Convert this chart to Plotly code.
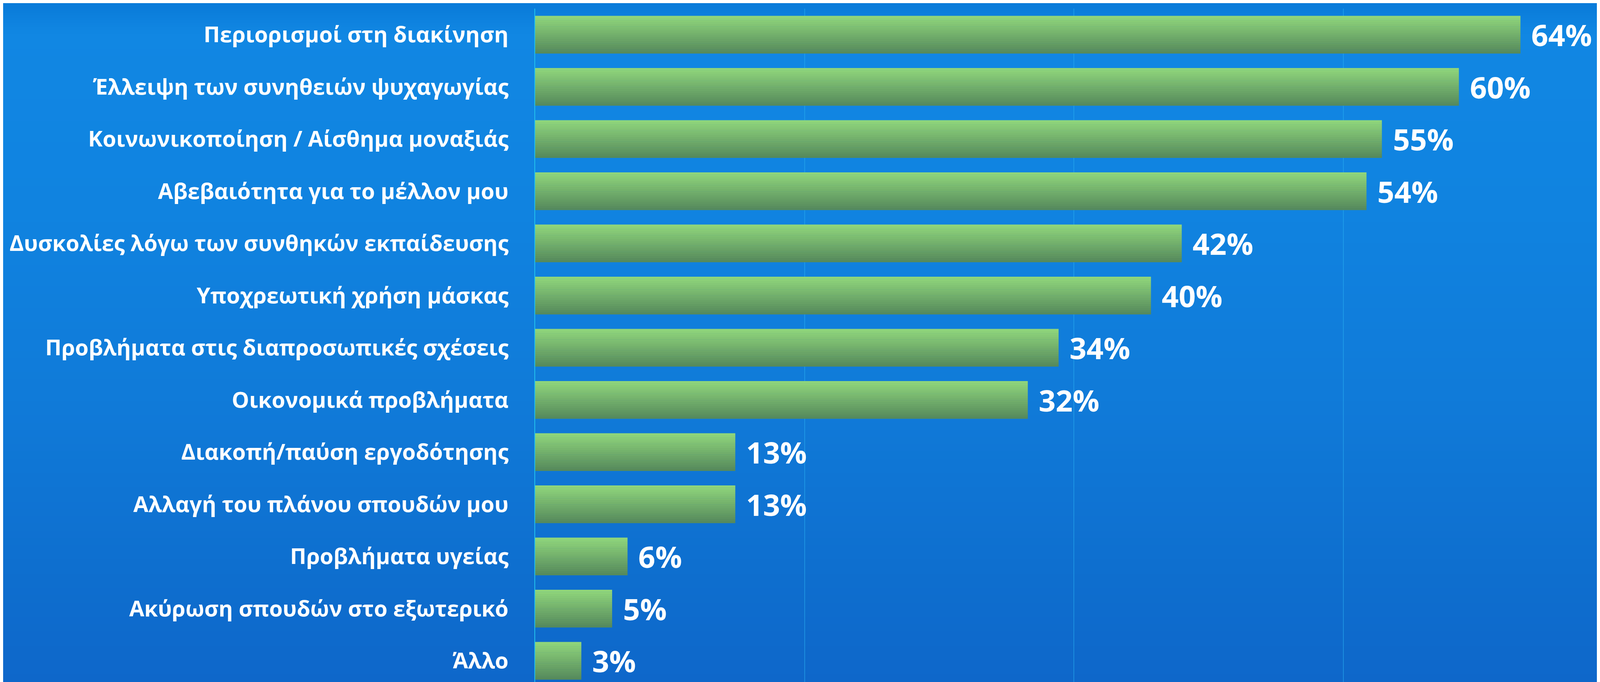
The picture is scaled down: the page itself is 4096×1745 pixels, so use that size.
import base64
import struct
import zlib

import plotly.graph_objects as go

# ---------------- data ----------------
categories = [
    "Περιορισμοί στη διακίνηση",
    "Έλλειψη των συνηθειών ψυχαγωγίας",
    "Κοινωνικοποίηση / Αίσθημα μοναξιάς",
    "Αβεβαιότητα για το μέλλον μου",
    "Δυσκολίες λόγω των συνθηκών εκπαίδευσης",
    "Υποχρεωτική χρήση μάσκας",
    "Προβλήματα στις διαπροσωπικές σχέσεις",
    "Οικονομικά προβλήματα",
    "Διακοπή/παύση εργοδότησης",
    "Αλλαγή του πλάνου σπουδών μου",
    "Προβλήματα υγείας",
    "Ακύρωση σπουδών στο εξωτερικό",
    "Άλλο",
]
values = [64, 60, 55, 54, 42, 40, 34, 32, 13, 13, 6, 5, 3]
value_labels = [f"{v}%" for v in values]


# ---------------- background gradient image ----------------
def make_png(width, height, pixel_fn):
    raw = b""
    for yy in range(height):
        row = b"\x00"
        for xx in range(width):
            row += bytes(pixel_fn(xx, yy))
        raw += row

    def chunk(tag, data):
        c = struct.pack(">I", len(data)) + tag + data
        return c + struct.pack(">I", zlib.crc32(tag + data) & 0xFFFFFFFF)

    png = b"\x89PNG\r\n\x1a\n"
    png += chunk(b"IHDR", struct.pack(">IIBBBBB", width, height, 8, 2, 0, 0, 0))
    png += chunk(b"IDAT", zlib.compress(raw, 9))
    png += chunk(b"IEND", b"")
    return "data:image/png;base64," + base64.b64encode(png).decode()


bg_stops = [
    (0.00, (10, 124, 218)),
    (0.04, (17, 135, 227)),
    (0.30, (16, 131, 224)),
    (0.60, (16, 122, 216)),
    (0.85, (14, 110, 206)),
    (1.00, (14, 103, 202)),
]


def lerp_stops(stops, t):
    for (t0, c0), (t1, c1) in zip(stops[:-1], stops[1:]):
        if t0 <= t <= t1:
            f = (t - t0) / (t1 - t0) if t1 > t0 else 0
            return tuple(int(round(a + (b - a) * f)) for a, b in zip(c0, c1))
    return stops[-1][1]


BG_H = 96
bg_uri = make_png(1, BG_H, lambda x, y: lerp_stops(bg_stops, y / (BG_H - 1)))

# ---------------- bars (vertical gradient via stacked slices) ----------------
fig = go.Figure()
N = 18
bar_w = 0.724
top_col = (143, 213, 123)
bot_col = (86, 138, 92)
for k in range(N):
    t = k / (N - 1)
    col = tuple(int(round(a + (b - a) * t)) for a, b in zip(top_col, bot_col))
    fig.add_trace(
        go.Bar(
            x=values,
            y=categories,
            orientation="h",
            offset=-bar_w / 2 + k * bar_w / N,
            width=bar_w / N + (0.004 if k < N - 1 else 0),
            marker=dict(color="rgb(%d,%d,%d)" % col, line=dict(width=0)),
            hoverinfo="skip" if k != N // 2 else "x+y",
            showlegend=False,
        )
    )

annotations = [
    dict(
        x=v,
        y=c,
        xref="x",
        yref="y",
        text=lbl,
        showarrow=False,
        xanchor="left",
        yanchor="middle",
        xshift=26,
        font=dict(family="Open Sans", size=76, color="white", weight=700),
    )
    for v, c, lbl in zip(values, categories, value_labels)
]

fig.update_layout(
    width=4096,
    height=1745,
    margin=dict(l=1362, r=0, t=14, b=0, pad=0),
    paper_bgcolor="#0f7ad9",
    plot_bgcolor="rgba(0,0,0,0)",
    barmode="overlay",
    showlegend=False,
    annotations=annotations,
    images=[
        dict(
            source=bg_uri,
            xref="paper",
            yref="paper",
            x=-0.5,
            y=1.01,
            sizex=1.6,
            sizey=1.02,
            xanchor="left",
            yanchor="top",
            sizing="stretch",
            layer="below",
        )
    ],
    xaxis=dict(
        range=[0, 69.37],
        tick0=0,
        dtick=17.5,
        showgrid=True,
        gridcolor="rgba(40,175,240,0.55)",
        gridwidth=2,
        showticklabels=False,
        zeroline=False,
        showline=False,
        ticks="",
        fixedrange=True,
    ),
    yaxis=dict(
        type="category",
        categoryorder="array",
        categoryarray=categories,
        range=[12.466, -0.5],
        showline=True,
        linecolor="#22c3ee",
        linewidth=2,
        showgrid=False,
        zeroline=False,
        ticks="",
        ticklabelstandoff=55,
        automargin=False,
        tickfont=dict(family="Open Sans", size=56, color="white", weight=700),
        fixedrange=True,
    ),
)

fig.write_html("out.html")
